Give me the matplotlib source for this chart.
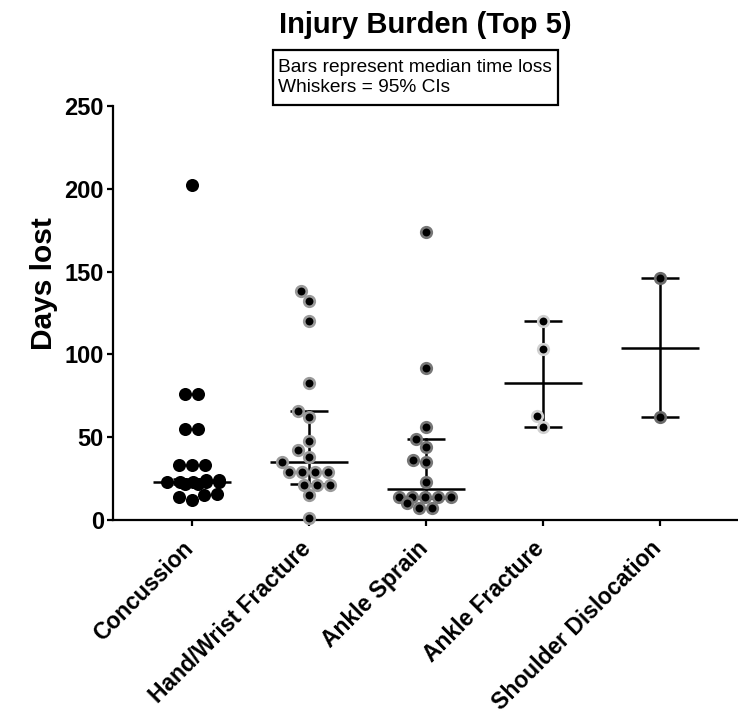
import numpy as np
import matplotlib
matplotlib.use("Agg")
import matplotlib.pyplot as plt
from matplotlib.patches import Rectangle
from matplotlib.transforms import ScaledTranslation

plt.rcParams['font.family'] = ['Liberation Sans', 'DejaVu Sans']

categories = ["Concussion", "Hand/Wrist Fracture", "Ankle Sprain",
              "Ankle Fracture", "Shoulder Dislocation"]
concussion = [202, 76, 76, 55, 55, 33, 33, 33, 24, 24, 23, 23, 23, 23, 23, 22, 22,
              16, 15, 14, 12]
hand_wrist = [138, 132, 120, 83, 66, 62, 48, 42, 38, 35, 29, 29, 29, 29, 21, 21, 21, 15, 1]
ankle_sprain = [174, 92, 56, 49, 44, 36, 35, 23, 14, 14, 14, 14, 14, 10, 7, 7]
ankle_fracture = [120, 103, 63, 56]
shoulder = [146, 62]
medians = [23, 35, 18.5, 83, 104]
ci_low = [22, 22, 13, 56, 62]
ci_high = [25, 66, 49, 120, 146]
y_ticks = [0, 50, 100, 150, 200, 250]

groups = [concussion, hand_wrist, ankle_sprain, ankle_fracture, shoulder]
halo = ['black', '#9a9a9a', '#777777', '#d0d0d0', '#6a6a6a']

W, H = 738, 728
fig = plt.figure(figsize=(W / 100, H / 100), dpi=100)
ax_l, ax_r, ax_t, ax_b = 113, 738, 106, 520
ax = fig.add_axes([ax_l / W, 1 - ax_b / H, (ax_r - ax_l) / W, (ax_b - ax_t) / H])

xlim = (-0.675, 4.667)
ylim = (0, 250)
ax.set_xlim(*xlim)
ax.set_ylim(*ylim)
px_per_x = (ax_r - ax_l) / (xlim[1] - xlim[0])
px_per_y = (ax_b - ax_t) / (ylim[1] - ylim[0])


def swarm(vals, s=13.0, M=27.0):
    """Beeswarm layout (pixel space): equal values form centred rows,
    spread is clamped to +-M px, overlapping when crowded."""
    vals = np.asarray(vals, float)
    placed = []
    offs = np.zeros(len(vals))
    for u in sorted(set(vals)):
        idx = np.where(vals == u)[0]
        k = len(idx)
        y = u * px_per_y
        rel = (np.arange(k) - (k - 1) / 2) * s
        if k > 1 and rel[-1] > M:
            rel = rel * M / rel[-1]
        forb = []
        for px, py in placed:
            dy = abs(py - y)
            if dy < s:
                w = np.sqrt(s ** 2 - dy ** 2)
                forb.append((px - w, px + w))
        cands = {0.0}
        for a, b in forb:
            for r in rel:
                cands.add(a - r)
                cands.add(b - r)
        best = None
        for c in sorted(cands, key=lambda c: (round(abs(c), 6), c)):
            pos = c + rel
            if np.any(np.abs(pos) > M + 1e-6):
                continue
            if all(not (a + 1e-6 < p < b - 1e-6) for p in pos for a, b in forb):
                best = c
                break
        if best is None:
            lo, hi = -M - rel[0], M - rel[-1]
            grid = np.linspace(lo, hi, 121) if hi > lo else np.array([0.0])
            scores = []
            for c in grid:
                pen = 0.0
                for p in c + rel:
                    for px, py in placed:
                        d = np.hypot(p - px, y - py)
                        pen += max(0.0, s - d)
                scores.append((round(pen, 6), abs(c)))
            best = grid[min(range(len(grid)), key=lambda j: scores[j])]
        for j, r in zip(idx, rel):
            offs[j] = best + r
            placed.append((best + r, y))
    return offs / px_per_x


lw = 1.8
for i, vals in enumerate(groups):
    xs = i + swarm(vals)
    ax.plot([i - 0.335, i + 0.335], [medians[i]] * 2, color='black', lw=lw,
            solid_capstyle='butt', zorder=2)
    ax.plot([i, i], [ci_low[i], ci_high[i]], color='black', lw=lw, zorder=2)
    for v in (ci_low[i], ci_high[i]):
        ax.plot([i - 0.16, i + 0.16], [v, v], color='black', lw=lw,
                solid_capstyle='butt', zorder=2)
    if i == 0:
        ax.plot(xs, vals, 'o', ms=9.4, mfc='black', mec='black', mew=0,
                zorder=3, clip_on=False)
    else:
        ax.plot(xs, vals, 'o', ms=7.6, mfc='black', mec=halo[i], mew=1.9,
                zorder=3, clip_on=False)

for s in ['top', 'right']:
    ax.spines[s].set_visible(False)
for s in ['left', 'bottom']:
    ax.spines[s].set_linewidth(1.6)

ax.set_yticks(y_ticks)
ax.set_yticklabels([str(t) for t in y_ticks], fontsize=17, fontweight='bold')
ax.set_xticks(range(len(categories)))
ax.set_xticklabels(categories, fontsize=16.5, fontweight='bold', rotation=45,
                   ha='right', rotation_mode='anchor')
ax.tick_params(axis='both', direction='out', length=4.5, width=1.6, pad=2)
ax.tick_params(axis='x', pad=9)
shift = ScaledTranslation(-0.10, 0.02, fig.dpi_scale_trans)
for lab in ax.get_xticklabels():
    lab.set_transform(lab.get_transform() + shift)

ax.set_ylabel("Days lost", fontsize=21.5, fontweight='bold')
ax.yaxis.set_label_coords(-0.088, 0.57)

fig.text(425.5 / W, 1 - 25 / H, "Injury Burden (Top 5)", fontsize=21,
         fontweight='bold', ha='center', va='center')

fig.add_artist(Rectangle((273 / W, 1 - 105 / H), (558 - 273) / W, (105 - 50) / H,
                         transform=fig.transFigure, fill=False, lw=1.6,
                         edgecolor='black'))
fig.text(278 / W, 1 - 67 / H, "Bars represent median time loss", fontsize=13.8,
         ha='left', va='center')
fig.text(278 / W, 1 - 88 / H, "Whiskers = 95% CIs", fontsize=13.8,
         ha='left', va='center')

fig.savefig("out.png", dpi=100)
